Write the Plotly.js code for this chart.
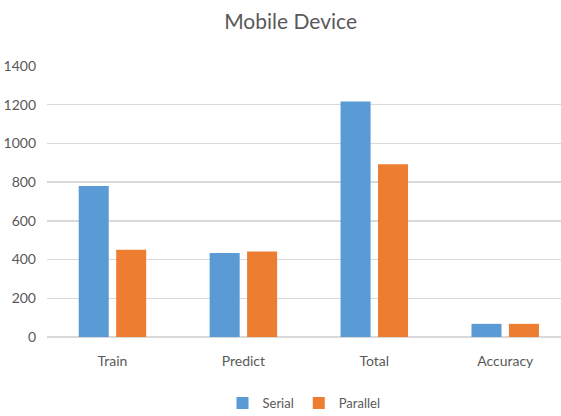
<!DOCTYPE html>
<html>
<head>
<meta charset="utf-8">
<script src="https://cdn.plot.ly/plotly-3.0.1.min.js"></script>
<style>html,body{margin:0;padding:0;background:#fff;}#chart{width:561px;height:416px;}</style>
</head>
<body>
<div id="chart"></div>
<script>
var categories = ["Train", "Predict", "Total", "Accuracy"];
var serialValues = [780, 434, 1217, 68];
var parallelValues = [451, 442, 892, 68];
var seriesNames = ["Serial", "Parallel"];
var yTicks = [0, 200, 400, 600, 800, 1000, 1200, 1400];

var fontFam = "Lato, 'Liberation Sans', Arial, sans-serif";
var textColor = "#595959";

var traces = [
  {type: "bar", name: seriesNames[0], x: categories, y: serialValues,
   marker: {color: "#5B9BD5"}, hoverinfo: "x+y"},
  {type: "bar", name: seriesNames[1], x: categories, y: parallelValues,
   marker: {color: "#ED7D31"}, hoverinfo: "x+y"}
];

var layout = {
  width: 561, height: 416,
  paper_bgcolor: "#ffffff", plot_bgcolor: "#ffffff",
  margin: {l: 47, r: 0, t: 66, b: 78.5, pad: 0, autoexpand: false},
  title: {text: "Mobile Device", font: {family: fontFam, size: 21, color: textColor},
          x: 0.518, xanchor: "center", y: 0.948, yanchor: "middle"},
  barmode: "group",
  bargap: 0.428,
  bargroupgap: 0.198,
  xaxis: {type: "category", range: [-0.5, 3.426], showgrid: false, zeroline: false,
          showline: false, ticks: "", tickfont: {family: fontFam, size: 14, color: textColor},
          ticklabelstandoff: 14, automargin: false, fixedrange: true},
  yaxis: {range: [0, 1400], tickvals: yTicks, ticktext: yTicks.map(String),
          showgrid: true, gridcolor: "#D9D9D9", gridwidth: 1.3,
          zeroline: true, zerolinecolor: "#D9D9D9", zerolinewidth: 1.5,
          showline: false, ticks: "", tickfont: {family: fontFam, size: 14, color: textColor},
          ticklabelstandoff: 10, automargin: false, fixedrange: true},
  showlegend: true,
  legend: {orientation: "h", x: 0.5, xanchor: "center", yref: "container", y: 0.031, yanchor: "middle",
           font: {family: fontFam, size: 13, color: textColor},
           itemwidth: 30, traceorder: "normal", itemsizing: "constant"}
};

Plotly.newPlot("chart", traces, layout, {displayModeBar: false, staticPlot: true});
</script>
</body>
</html>
